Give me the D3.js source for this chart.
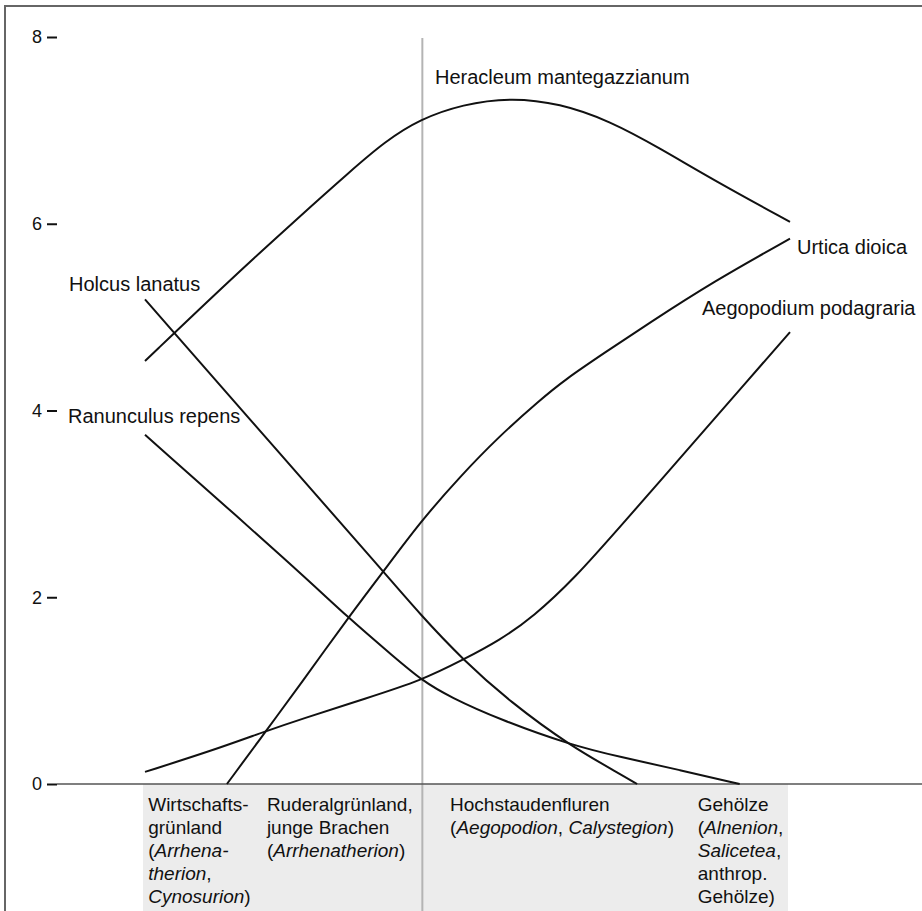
<!DOCTYPE html>
<html>
<head>
<meta charset="utf-8">
<script src="https://cdn.jsdelivr.net/npm/d3@7"></script>
<style>
  body { margin: 0; background: #fff; }
  svg { display: block; font-family: "Liberation Sans", Arial, sans-serif; }
  .species { font-size: 20px; fill: #111; }
  .cat { font-size: 19px; fill: #111; }
  .tick text { font-size: 18px; fill: #111; }
</style>
</head>
<body>
<script>
//gradient position (0 = Wirtschaftsgrünland edge, 100 = Gehölze edge) and abundance
var heracleum = [[0,4.53],[13.2,5.4],[24,6.08],[31.8,6.56],[37.2,6.88],[42.6,7.12],[49.3,7.28],[56.6,7.35],[64.3,7.29],[72.1,7.1],[79.8,6.81],[88.1,6.47],[100,6.02]];
var holcus = [[0,5.19],[20.9,3.54],[36.9,2.28],[42.6,1.82],[49.3,1.33],[56.6,0.88],[65.9,0.41],[73.6,0.11],[76.3,0]];
var ranunculus = [[0,3.74],[24,2.27],[31.5,1.78],[38.8,1.35],[42.9,1.11],[47.3,0.93],[55,0.69],[65.9,0.42],[73.6,0.29],[82.9,0.15],[92.2,0]];
var urtica = [[12.7,0],[18.9,0.58],[24,1.06],[31.5,1.78],[36.9,2.27],[42.6,2.8],[48.8,3.29],[55,3.73],[61.2,4.11],[65.1,4.33],[71.3,4.62],[77.8,4.92],[88.1,5.38],[100,5.84]];
var aegopodium = [[0,0.13],[10.1,0.35],[18.9,0.57],[24,0.69],[34.4,0.92],[42.9,1.11],[49.3,1.33],[55,1.54],[60.2,1.79],[66.7,2.21],[73.6,2.75],[86,3.73],[93.3,4.31],[100,4.84]];

var speciesNames = ["Heracleum mantegazzianum", "Holcus lanatus", "Ranunculus repens", "Urtica dioica", "Aegopodium podagraria"];
var yTicks = [0, 2, 4, 6, 8];

//category labels, each line is a list of [text, italic] pieces
var categories = [
  [[["Wirtschafts-",0]], [["grünland",0]], [["(",0],["Arrhena-",1]], [["therion",1],[",",0]], [["Cynosurion",1],[")",0]]],
  [[["Ruderalgrünland,",0]], [["junge Brachen",0]], [["(",0],["Arrhenatherion",1],[")",0]]],
  [[["Hochstaudenfluren",0]], [["(",0],["Aegopodion",1],[", ",0],["Calystegion",1],[")",0]]],
  [[["Gehölze",0]], [["(",0],["Alnenion",1],[",",0]], [["Salicetea",1],[",",0]], [["anthrop.",0]], [["Gehölze)",0]]]
];

//layout
var width = 922, height = 911;
var catX = [0.5, 18.9, 47.3, 85.7];       // label anchors in gradient units
var splitX = 43;                           // boundary grünland / Hochstauden
var labelPos = [[435, 84], [69, 291], [68, 423], [797, 254], [702, 315]];

var svg = d3.select("body").append("svg")
    .attr("width", width)
    .attr("height", height);

var x = d3.scaleLinear().domain([0, 100]).range([145, 790]);
var y = d3.scaleLinear().domain([0, 8]).range([784, 37]);

//frame
svg.append("path")
    .attr("d", "M5," + height + "V6H" + width)
    .attr("fill", "none")
    .attr("stroke", "#666")
    .attr("stroke-width", 2);

//grey band under the baseline
svg.append("rect")
    .attr("x", x(0) - 2)
    .attr("y", y(0))
    .attr("width", x(100) - x(0))
    .attr("height", height - y(0))
    .attr("fill", "#ececec");

//vertical split line
svg.append("line")
    .attr("x1", x(splitX)).attr("x2", x(splitX))
    .attr("y1", 38).attr("y2", height)
    .attr("stroke", "#b4b4b4")
    .attr("stroke-width", 2);

//baseline
svg.append("line")
    .attr("x1", 57).attr("x2", width)
    .attr("y1", y(0)).attr("y2", y(0))
    .attr("stroke", "#555")
    .attr("stroke-width", 1.5);

//y axis
var yAxis = svg.append("g")
    .attr("transform", "translate(57,0)")
    .call(d3.axisLeft(y).tickValues(yTicks).tickSize(10).tickPadding(5));
yAxis.select(".domain").remove();
yAxis.selectAll(".tick line").attr("stroke", "#111").attr("stroke-width", 2);
yAxis.selectAll(".tick text").attr("font-family", null).attr("font-size", null);

//curves, smoothed through the read-off points
var line = d3.line()
    .x(function(d){ return x(d[0]); })
    .y(function(d){ return y(d[1]); })
    .curve(d3.curveBasis);

var series = [heracleum, holcus, ranunculus, urtica, aegopodium];
svg.selectAll(".curve")
    .data(series)
    .enter()
    .append("path")
    .attr("class", "curve")
    .attr("d", line)
    .attr("fill", "none")
    .attr("stroke", "#111")
    .attr("stroke-width", 2);

//species labels
svg.selectAll(".species")
    .data(speciesNames)
    .enter()
    .append("text")
    .attr("class", "species")
    .attr("x", function(d, i){ return labelPos[i][0]; })
    .attr("y", function(d, i){ return labelPos[i][1]; })
    .text(function(d){ return d; });

//category labels
categories.forEach(function(cat, i){
    var t = svg.append("text")
        .attr("class", "cat");
    cat.forEach(function(lineParts, j){
        lineParts.forEach(function(p, k){
            var span = t.append("tspan")
                .attr("font-style", p[1] ? "italic" : "normal")
                .text(p[0]);
            if (k == 0) span.attr("x", x(catX[i])).attr("y", 811 + j * 23);
        });
    });
});
</script>
</body>
</html>
